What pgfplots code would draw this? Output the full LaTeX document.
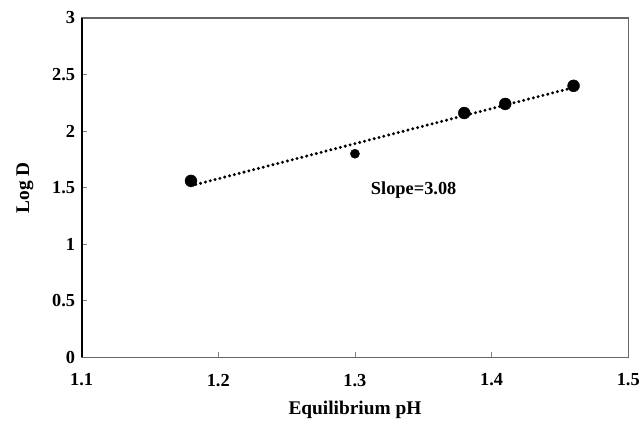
\documentclass[border=0pt]{standalone}
\usepackage{pgfplots}
\pgfplotsset{compat=1.18}
\usepackage{fontspec}
\setmainfont{Liberation Serif}
\begin{document}
\begin{tikzpicture}
\begin{axis}[
  name=ax,
  scale only axis,
  width=549bp, height=341bp,
  xmin=1.1, xmax=1.5, ymin=0, ymax=3,
  xtick={1.1,1.2,1.3,1.4,1.5},
  ytick={0,0.5,1,1.5,2,2.5,3},
  xticklabels={1.1,1.2,1.3,1.4,1.5},
  yticklabels={0,0.5,1,1.5,2,2.5,3},
  tick pos=left,
  tick align=inside,
  major tick length=5bp,
  tick style={gray, line width=0.8bp},
  axis line style={gray!80!black, line width=1.2bp},
  ticklabel style={font=\fontsize{18.5}{20}\selectfont\bfseries},
  xticklabel style={yshift=-13bp},
  yticklabel style={xshift=-3bp},
  xlabel={Equilibrium pH},
  ylabel={Log D},
  label style={font=\fontsize{19.5}{21}\selectfont\bfseries},
  xlabel style={yshift=-8bp},
  ylabel style={yshift=12bp},
  clip=false,
]
\addplot[black, line width=3.3bp, line cap=round, dash pattern=on 0pt off 5bp]
  coordinates {(1.18,1.517) (1.46,2.385)};
\addplot[only marks, mark=*, mark size=6bp, black]
  coordinates {(1.18,1.56) (1.38,2.16) (1.41,2.24) (1.46,2.40)};
\addplot[only marks, mark=*, mark size=4.6bp, black]
  coordinates {(1.30,1.80)};
\node[font=\fontsize{18.5}{20}\selectfont\bfseries] at (axis cs:1.343,1.48) {Slope=3.08};
\draw[black, line width=2bp] (rel axis cs:0,0) -- (rel axis cs:0,1);
\end{axis}
\path[use as bounding box] (ax.south west) ++(-82bp,-72bp) rectangle ++(643bp,431bp);
\end{tikzpicture}
\end{document}
